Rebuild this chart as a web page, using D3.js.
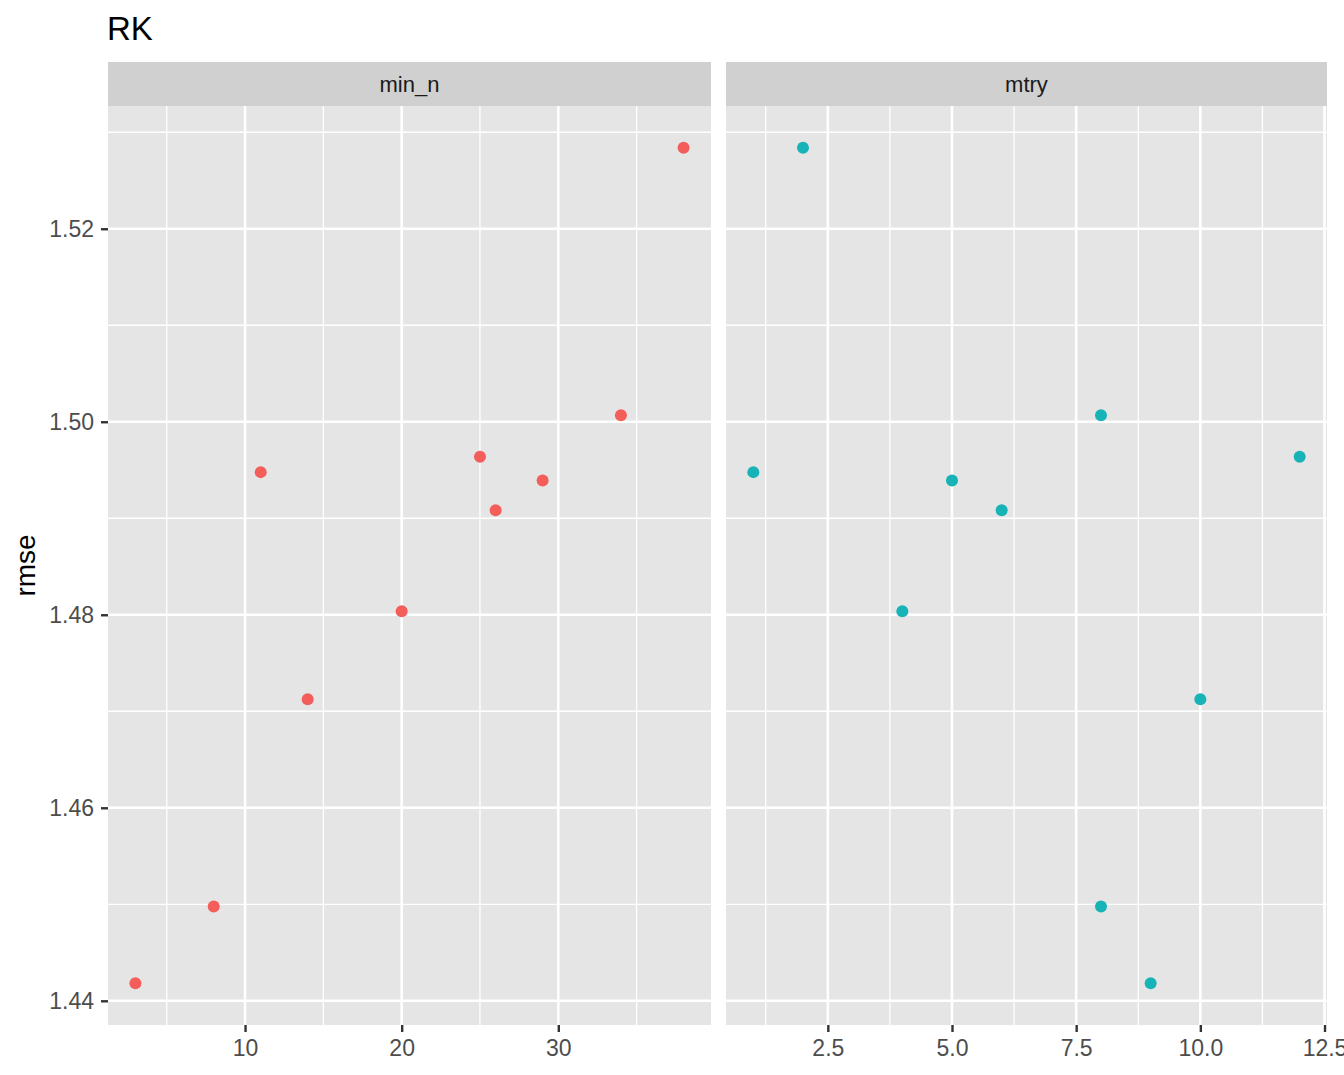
<!DOCTYPE html>
<html>
<head>
<meta charset="utf-8">
<script src="https://cdn.jsdelivr.net/npm/d3@7"></script>
<style>
    body { margin: 0; background: #ffffff; }
    svg { display: block; font-family: "Liberation Sans", Arial, Helvetica, sans-serif; }
</style>
</head>
<body>
<svg id="chart" width="1344" height="1075"></svg>
<script>
// ------------------ DATA ------------------

let minN = [3, 8, 11, 14, 20, 25, 26, 29, 34, 38];
let mtry = [9, 8, 1, 10, 4, 12, 6, 5, 8, 2];
let rmse = [1.44182, 1.44977, 1.49478, 1.47125, 1.48037, 1.49637, 1.49084, 1.49392, 1.50068, 1.52839];

let facets = ["min_n", "mtry"];
let facetColors = ["#f35e5a", "#17b3b7"];
let yTicks = [1.44, 1.46, 1.48, 1.50, 1.52];
let yMinor = [1.45, 1.47, 1.49, 1.51, 1.53];
let xTicks = [[10, 20, 30], [2.5, 5.0, 7.5, 10.0, 12.5]];
let xMinor = [[5, 15, 25, 35], [1.25, 3.75, 6.25, 8.75, 11.25]];

// ------------------ LAYOUT ------------------

let svg = d3.select("#chart");
let stripTop = 62;
let stripHeight = 44;
let panelTop = stripTop + stripHeight;
let panelBottom = 1025;
let panelLefts = [108, 726];
let panelRights = [711, 1327];

// ggplot style 5% expansion
function expand(ext) {
    let pad = (ext[1] - ext[0]) * 0.05;
    return [ext[0] - pad, ext[1] + pad];
}

let y = d3.scaleLinear()
    .domain(expand(d3.extent(rmse)))
    .range([panelBottom, panelTop]);

// title
svg.append("text")
    .attr("x", 107)
    .attr("y", 40)
    .attr("font-size", 33)
    .attr("fill", "#000000")
    .text("RK");

// y axis title
svg.append("text")
    .attr("transform", "translate(35," + ((panelTop + panelBottom) / 2) + ") rotate(-90)")
    .attr("text-anchor", "middle")
    .attr("font-size", 28)
    .attr("fill", "#000000")
    .text("rmse");

// ------------------ PANELS ------------------

function drawPanel(i) {
    let xValues = i == 0 ? minN : mtry;
    let left = panelLefts[i];
    let right = panelRights[i];

    let x = d3.scaleLinear()
        .domain(expand(d3.extent(xValues)))
        .range([left, right]);

    let g = svg.append("g").attr("class", "panel");

    // strip
    g.append("rect")
        .attr("x", left)
        .attr("y", stripTop)
        .attr("width", right - left)
        .attr("height", stripHeight)
        .attr("fill", "#d0d0d0");

    g.append("text")
        .attr("x", (left + right) / 2)
        .attr("y", stripTop + stripHeight / 2)
        .attr("dy", "0.36em")
        .attr("text-anchor", "middle")
        .attr("font-size", 22)
        .attr("fill", "#1a1a1a")
        .text(facets[i]);

    // background
    g.append("rect")
        .attr("x", left)
        .attr("y", panelTop)
        .attr("width", right - left)
        .attr("height", panelBottom - panelTop)
        .attr("fill", "#e5e5e5");

    // minor grid
    g.selectAll(".ymin")
        .data(yMinor)
        .enter().append("line")
        .attr("x1", left).attr("x2", right)
        .attr("y1", (d) => y(d)).attr("y2", (d) => y(d))
        .attr("stroke", "#ffffff")
        .attr("stroke-width", 1.3);

    g.selectAll(".xmin")
        .data(xMinor[i])
        .enter().append("line")
        .attr("x1", (d) => x(d)).attr("x2", (d) => x(d))
        .attr("y1", panelTop).attr("y2", panelBottom)
        .attr("stroke", "#ffffff")
        .attr("stroke-width", 1.3);

    // major grid
    g.selectAll(".ymaj")
        .data(yTicks)
        .enter().append("line")
        .attr("x1", left).attr("x2", right)
        .attr("y1", (d) => y(d)).attr("y2", (d) => y(d))
        .attr("stroke", "#ffffff")
        .attr("stroke-width", 2.6);

    g.selectAll(".xmaj")
        .data(xTicks[i])
        .enter().append("line")
        .attr("x1", (d) => x(d)).attr("x2", (d) => x(d))
        .attr("y1", panelTop).attr("y2", panelBottom)
        .attr("stroke", "#ffffff")
        .attr("stroke-width", 2.6);

    // points
    g.selectAll("circle")
        .data(d3.range(rmse.length))
        .enter().append("circle")
        .attr("cx", (d) => x(xValues[d]))
        .attr("cy", (d) => y(rmse[d]))
        .attr("r", 6)
        .attr("fill", facetColors[i]);

    // x axis
    let xAxis = d3.axisBottom(x)
        .tickValues(xTicks[i])
        .tickSize(7)
        .tickPadding(8)
        .tickFormat(i == 0 ? d3.format("d") : d3.format(".1f"));

    let xg = g.append("g")
        .attr("transform", "translate(0," + panelBottom + ")")
        .call(xAxis);
    styleAxis(xg);

    // y axis only on first panel
    if (i == 0) {
        let yAxis = d3.axisLeft(y)
            .tickValues(yTicks)
            .tickSize(7)
            .tickPadding(7)
            .tickFormat(d3.format(".2f"));

        let yg = g.append("g")
            .attr("transform", "translate(" + left + ",0)")
            .call(yAxis);
        styleAxis(yg);
    }
}

function styleAxis(sel) {
    sel.select(".domain").remove();
    sel.selectAll(".tick line")
        .attr("stroke", "#333333")
        .attr("stroke-width", 2.4);
    sel.selectAll(".tick text")
        .attr("font-size", 23)
        .attr("fill", "#4d4d4d")
        .attr("font-family", "'Liberation Sans', Arial, Helvetica, sans-serif");
}

drawPanel(0);
drawPanel(1);
</script>
</body>
</html>
